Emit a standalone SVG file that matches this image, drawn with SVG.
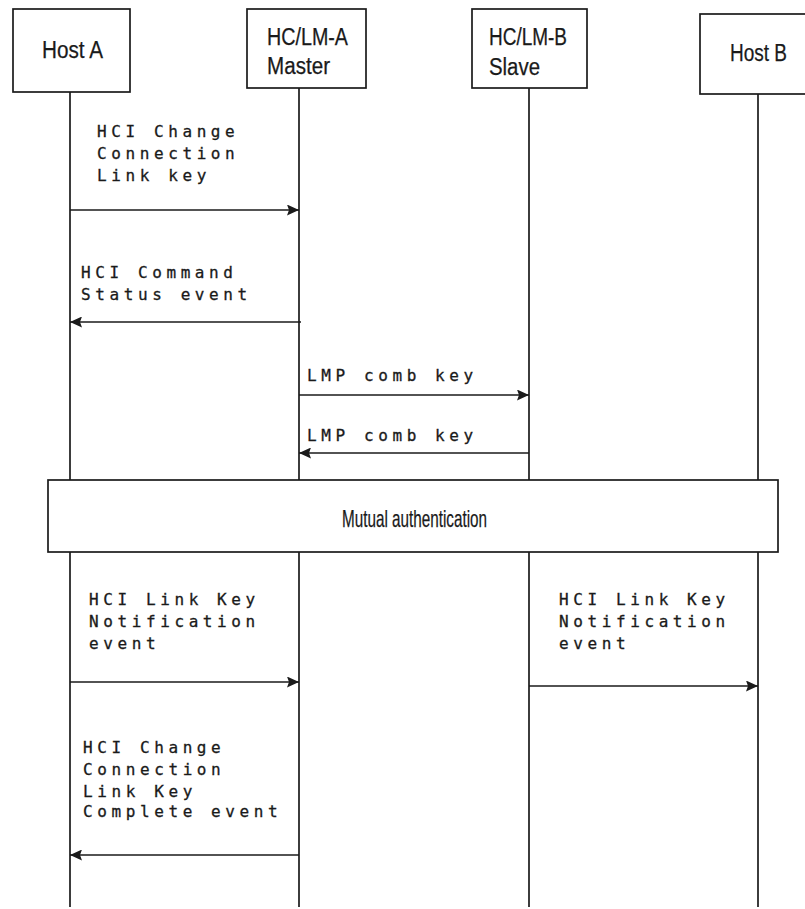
<svg xmlns="http://www.w3.org/2000/svg" width="805" height="909" viewBox="0 0 805 909">
<style>
.box{fill:#fff;stroke:#1a1a1a;stroke-width:1.7}
.life{stroke:#1a1a1a;stroke-width:1.7;fill:none}
.msg{stroke:#1a1a1a;stroke-width:1.7;fill:none}
.hd{font-family:"Liberation Sans",Arial,sans-serif;font-size:23px;fill:#1a1a1a;stroke:#1a1a1a;stroke-width:0.25}
.mono{font-family:"DejaVu Sans Mono","Liberation Mono",monospace;font-size:16px;letter-spacing:4.6px;fill:#1a1a1a;stroke:#1a1a1a;stroke-width:0.3}
</style>
<defs>
<marker id="ah" markerWidth="13" markerHeight="11" refX="12" refY="5.5" orient="auto" markerUnits="userSpaceOnUse">
<path d="M0,0 L12,5.5 L0,11 L2,5.5 z" fill="#1a1a1a"/>
</marker>
</defs>
<rect width="805" height="909" fill="#fff"/>
<g id="lifelines">
<line class="life" x1="70" y1="92" x2="70" y2="907"/>
<line class="life" x1="299" y1="88" x2="299" y2="907"/>
<line class="life" x1="529" y1="88" x2="529" y2="907"/>
<line class="life" x1="758" y1="94" x2="758" y2="907"/>
</g>
<g id="hostA">
<rect class="box" x="13" y="9" width="117" height="83"/>
<text class="hd" x="42" y="58" textLength="61" lengthAdjust="spacingAndGlyphs">Host A</text>
</g>
<g id="hclmA">
<rect class="box" x="247" y="9" width="119" height="79"/>
<text class="hd" x="267" y="45" textLength="81" lengthAdjust="spacingAndGlyphs">HC/LM-A</text>
<text class="hd" x="267" y="74" textLength="63" lengthAdjust="spacingAndGlyphs">Master</text>
</g>
<g id="hclmB">
<rect class="box" x="472" y="9" width="115" height="79"/>
<text class="hd" x="489" y="45" textLength="78" lengthAdjust="spacingAndGlyphs">HC/LM-B</text>
<text class="hd" x="489" y="75" textLength="51" lengthAdjust="spacingAndGlyphs">Slave</text>
</g>
<g id="hostB">
<rect class="box" x="700" y="14" width="112" height="80"/>
<text class="hd" x="730" y="61" textLength="57" lengthAdjust="spacingAndGlyphs">Host B</text>
</g>
<g id="mutual">
<rect class="box" x="48" y="480" width="730" height="72"/>
<text class="hd" x="342" y="527" style="font-size:24px" textLength="145" lengthAdjust="spacingAndGlyphs">Mutual authentication</text>
</g>
<g id="connectors">
<line class="msg" x1="70" y1="210" x2="299" y2="210" marker-end="url(#ah)"/>
<line class="msg" x1="301" y1="322" x2="70" y2="322" marker-end="url(#ah)"/>
<line class="msg" x1="299" y1="395" x2="529" y2="395" marker-end="url(#ah)"/>
<line class="msg" x1="529" y1="453" x2="299" y2="453" marker-end="url(#ah)"/>
<line class="msg" x1="70" y1="682" x2="299" y2="682" marker-end="url(#ah)"/>
<line class="msg" x1="529" y1="686" x2="758" y2="686" marker-end="url(#ah)"/>
<line class="msg" x1="299" y1="855" x2="70" y2="855" marker-end="url(#ah)"/>
</g>
<g id="labels">
<text class="mono" x="97" y="137">HCI Change</text>
<text class="mono" x="97" y="159">Connection</text>
<text class="mono" x="97" y="181">Link key</text>
<text class="mono" x="81" y="278">HCI Command</text>
<text class="mono" x="81" y="300">Status event</text>
<text class="mono" x="307" y="381">LMP comb key</text>
<text class="mono" x="307" y="441">LMP comb key</text>
<text class="mono" x="89" y="605">HCI Link Key</text>
<text class="mono" x="89" y="627">Notification</text>
<text class="mono" x="89" y="649">event</text>
<text class="mono" x="559" y="605">HCI Link Key</text>
<text class="mono" x="559" y="627">Notification</text>
<text class="mono" x="559" y="649">event</text>
<text class="mono" x="83" y="753">HCI Change</text>
<text class="mono" x="83" y="775">Connection</text>
<text class="mono" x="83" y="797">Link Key</text>
<text class="mono" x="83" y="817">Complete event</text>
</g>
</svg>
